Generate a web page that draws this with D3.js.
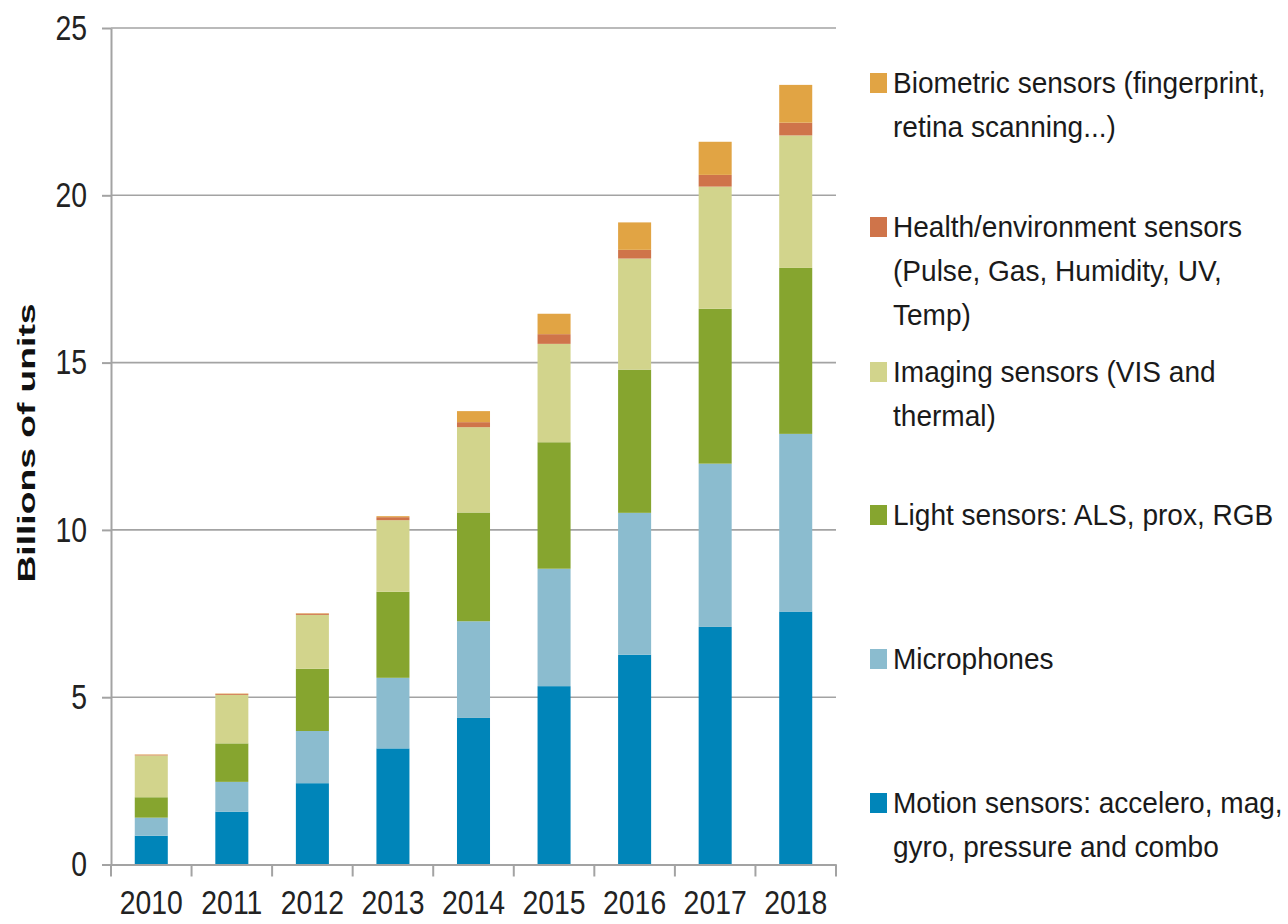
<!DOCTYPE html>
<html>
<head>
  <meta charset="utf-8">
  <script src="https://cdn.jsdelivr.net/npm/d3@7"></script>
  <style type="text/css">
    body {
      margin: 0;
      background: #fff;
      font-family: "Liberation Sans", Arial, Helvetica, sans-serif;
    }
    .axis path, .axis line {
      stroke: #a3a3a3;
      stroke-width: 2;
    }
    .axis text {
      font-family: "Liberation Sans", Arial, sans-serif;
      font-size: 35px;
      fill: #222;
      transform-box: fill-box;
    }
    .y-axis text { transform-origin: 100% 50%; transform: scaleX(0.81); }
    .x-axis text { font-size: 33px; transform-origin: 50% 50%; transform: scaleX(0.86); }
    .grid line {
      stroke: #a3a3a3;
      stroke-width: 1.6;
    }
    .legend text {
      font-size: 30px;
      fill: #1a1a1a;
    }
  </style>
</head>
<body>
  <script type="text/javascript">

  // data (billions of units)
  const years = ['2010', '2011', '2012', '2013', '2014', '2015', '2016', '2017', '2018'];
  const motion      = [0.86, 1.58, 2.43, 3.47, 4.38, 5.33, 6.27, 7.10, 7.56];
  const microphones = [0.54, 0.89, 1.56, 2.11, 2.89, 3.51, 4.24, 4.88, 5.31];
  const light       = [0.61, 1.15, 1.86, 2.57, 3.25, 3.78, 4.28, 4.63, 4.96];
  const imaging     = [1.25, 1.45, 1.61, 2.14, 2.55, 2.94, 3.32, 3.65, 3.96];
  const health      = [0.02, 0.03, 0.04, 0.09, 0.15, 0.29, 0.26, 0.35, 0.38];
  const biometric   = [0.01, 0.01, 0.01, 0.03, 0.33, 0.61, 0.82, 0.99, 1.13];
  const yTicks = [0, 5, 10, 15, 20, 25];

  const keys = ['motion', 'microphones', 'light', 'imaging', 'health', 'biometric'];
  const colors = {
    motion: '#0085b9', microphones: '#8bbccf', light: '#86a52f',
    imaging: '#d2d48c', health: '#cf744a', biometric: '#e1a444'
  };
  const legendLines = {
    biometric: ['Biometric sensors (fingerprint,', 'retina scanning...)'],
    health: ['Health/environment sensors', '(Pulse, Gas, Humidity, UV,', 'Temp)'],
    imaging: ['Imaging sensors (VIS and', 'thermal)'],
    light: ['Light sensors: ALS, prox, RGB'],
    microphones: ['Microphones'],
    motion: ['Motion sensors: accelero, mag,', 'gyro, pressure and combo']
  };
  // legend entry baselines (layout)
  const legendTop = {biometric: 93, health: 237, imaging: 382, light: 525, microphones: 669, motion: 813};

  const table = years.map((yr, i) => ({
    year: yr, motion: motion[i], microphones: microphones[i], light: light[i],
    imaging: imaging[i], health: health[i], biometric: biometric[i]
  }));

  const svg = d3.select('body').append('svg')
    .attr('width', 1288)
    .attr('height', 924);

  const y = d3.scaleLinear().domain([0, 25]).range([864.5, 28]);
  const x = d3.scaleBand().domain(years).range([111, 836])
    .paddingInner(0.59).paddingOuter(0.295);

  // gridlines
  svg.append('g').attr('class', 'grid')
    .selectAll('line').data(yTicks.filter(d => d > 0))
    .join('line')
      .attr('x1', 111).attr('x2', 836)
      .attr('y1', d => y(d)).attr('y2', d => y(d));

  // stacked bars
  const series = d3.stack().keys(keys)(table);
  svg.append('g').selectAll('g').data(series)
    .join('g')
      .attr('fill', d => colors[d.key])
    .selectAll('rect').data(d => d)
    .join('rect')
      .attr('x', d => x(d.data.year))
      .attr('width', x.bandwidth())
      .attr('y', d => y(d[1]))
      .attr('height', d => y(d[0]) - y(d[1]));

  // y axis
  svg.append('g')
    .attr('class', 'axis y-axis')
    .attr('transform', 'translate(111,0)')
    .call(d3.axisLeft(y).tickValues(yTicks).tickSize(9).tickSizeOuter(0).tickPadding(15));

  // x axis, labels centred, ticks on the category boundaries
  const xAxis = svg.append('g')
    .attr('class', 'axis x-axis')
    .attr('transform', `translate(0,${y(0)})`)
    .call(d3.axisBottom(x).tickSize(0).tickSizeOuter(0).tickPadding(0));
  xAxis.selectAll('.tick text').attr('y', 50).attr('dy', 0);

  const half = x.step() * x.paddingInner() / 2;
  const bounds = years.map(d => x(d) - half).concat([x(years[years.length - 1]) + x.bandwidth() + half]);
  xAxis.selectAll('line.bound').data(bounds)
    .join('line')
      .attr('class', 'bound')
      .attr('x1', d => d).attr('x2', d => d)
      .attr('y1', 0).attr('y2', 12);

  // y title
  svg.append('text')
    .attr('transform', 'translate(35,443) rotate(-90)')
    .attr('text-anchor', 'middle')
    .attr('font-weight', 'bold')
    .attr('font-size', 24)
    .attr('fill', '#111')
    .attr('textLength', 279)
    .attr('lengthAdjust', 'spacingAndGlyphs')
    .text('Billions of units');

  // legend
  const legend = svg.append('g').attr('class', 'legend');
  const item = legend.selectAll('g').data(keys.slice().reverse())
    .join('g')
      .attr('transform', d => `translate(870,${legendTop[d]})`);
  item.append('rect')
    .attr('x', 0).attr('y', -20)
    .attr('width', 17).attr('height', 20)
    .attr('fill', d => colors[d]);
  item.append('g')
    .attr('transform', 'translate(23,0) scale(0.935,1)')
    .selectAll('text').data(d => legendLines[d])
    .join('text')
      .attr('x', 0)
      .attr('y', (d, i) => i * 44)
      .text(d => d);

  </script>
</body>
</html>
